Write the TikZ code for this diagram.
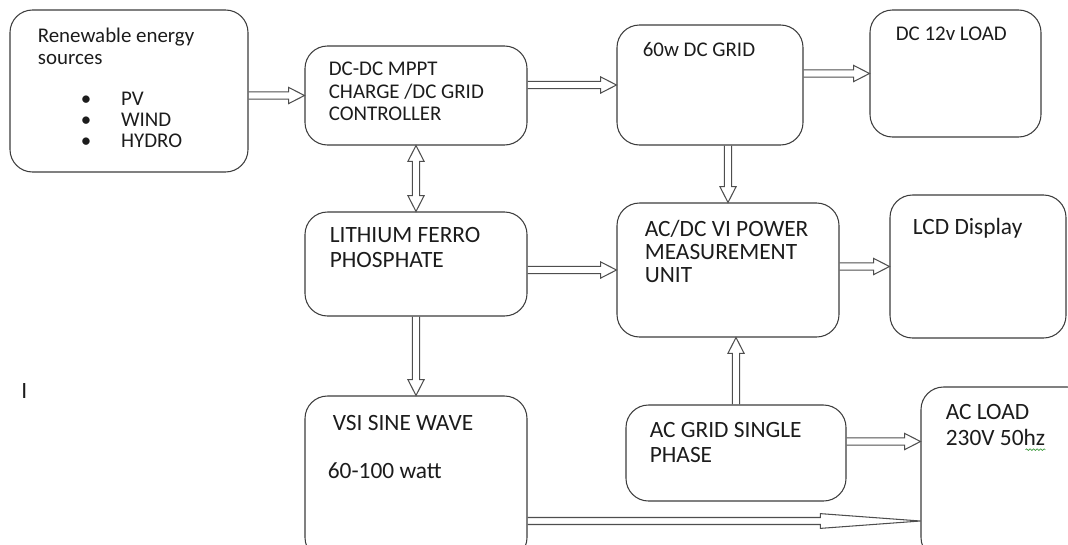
\documentclass[tikz,border=0pt]{standalone}
\usepackage{fontspec}
\setmainfont{Carlito}
\usepackage{tikz}
\usetikzlibrary{positioning,calc,decorations.pathmorphing}
\definecolor{boxgray}{HTML}{3C3C3C}
\definecolor{arrgray}{HTML}{4E4E4E}
\definecolor{inkblack}{HTML}{1C1C1C}
\definecolor{spellgreen}{HTML}{3E9B3E}

\tikzset{
  flowgap/.store in=\flowgap, flowgap=2.1pt,
  flowhead/.store in=\flowhead, flowhead=9pt,
  flowwing/.store in=\flowwing, flowwing=4.6pt,
}

\begin{document}
\begin{tikzpicture}[
    box/.style={draw=boxgray, line width=0.6pt, rounded corners=0.45cm},
    txt/.style={inner sep=0pt, anchor=north west, align=left, text=inkblack,
                font=\fontsize{11.9}{12.6}\selectfont},
    bigtxt/.style={txt, font=\fontsize{13.3}{14}\selectfont},
    % hollow double-line arrow, built as an outline
    flow/.style={draw=arrgray, line width=0.6pt, line join=miter, to path={
        let \p1=(\tikztostart), \p2=(\tikztotarget),
            \p3=($(\p2)!\flowhead!(\p1)$) in
        ($(\p1)!\flowgap!90:(\p2)$) -- ($(\p3)!\flowgap!-90:(\p1)$)
        -- ($(\p3)!\flowwing!-90:(\p1)$) -- (\p2)
        -- ($(\p3)!\flowwing!90:(\p1)$) -- ($(\p3)!\flowgap!90:(\p1)$)
        -- ($(\p1)!\flowgap!-90:(\p2)$)}},
    flowboth/.style={draw=arrgray, line width=0.6pt, line join=miter, to path={
        let \p1=(\tikztostart), \p2=(\tikztotarget),
            \p3=($(\p2)!\flowhead!(\p1)$), \p4=($(\p1)!\flowhead!(\p2)$) in
        (\p1) -- ($(\p4)!\flowwing!-90:(\p2)$) -- ($(\p4)!\flowgap!-90:(\p2)$)
        -- ($(\p3)!\flowgap!90:(\p1)$) -- ($(\p3)!\flowwing!90:(\p1)$)
        -- (\p2)
        -- ($(\p3)!\flowwing!-90:(\p1)$) -- ($(\p3)!\flowgap!-90:(\p1)$)
        -- ($(\p4)!\flowgap!90:(\p2)$) -- ($(\p4)!\flowwing!90:(\p2)$) -- cycle}},
    spell/.style={spellgreen, line width=0.4pt, decorate,
                  decoration={snake, amplitude=0.45pt, segment length=2pt}},
]
\clip (0,0) rectangle (21.36,-10.88);

% === Boxes ===
\node[box, minimum width=4.76cm, minimum height=3.24cm] (ren) at (2.58,-1.82) {};
\node[box, minimum width=4.44cm, minimum height=1.98cm] (mppt) at (8.32,-1.91) {};
\node[box, minimum width=3.72cm, minimum height=2.40cm] (dcgrid) at (14.20,-1.70) {};
\node[box, minimum width=3.42cm, minimum height=2.54cm] (dcload) at (19.11,-1.47) {};
\node[box, minimum width=4.44cm, minimum height=2.08cm] (lfp) at (8.32,-5.28) {};
\node[box, minimum width=4.44cm, minimum height=2.68cm] (meas) at (14.56,-5.40) {};
\node[box, minimum width=3.52cm, minimum height=2.86cm] (lcd) at (19.56,-5.33) {};
\node[box, minimum width=4.44cm, minimum height=3.28cm] (vsi) at (8.32,-9.56) {};
\node[box, minimum width=4.40cm, minimum height=1.92cm] (acgrid) at (14.72,-9.06) {};
\node[box, minimum width=3.38cm, minimum height=3.46cm] (acload) at (20.11,-9.47) {};

% === Box texts ===
\node[txt, below right=0.37cm and 0.56cm of ren.north west] (rentitle)
    {Renewable energy\\sources};
\node[txt, font=\fontsize{11.9}{11.9}\selectfont,
      below right=1.64cm and 1.42cm of ren.north west] (renlist)
    {\textbullet\hspace{17pt}PV\\\textbullet\hspace{17pt}WIND\\\textbullet\hspace{17pt}HYDRO};
\node[txt, below right=0.33cm and 0.48cm of mppt.north west] (mppttext)
    {DC-DC MPPT\\CHARGE /DC GRID\\CONTROLLER};
\node[txt, below right=0.35cm and 0.52cm of dcgrid.north west] (dcgridtext) {60w DC GRID};
\node[txt, below right=0.35cm and 0.52cm of dcload.north west] (dcloadtext) {DC 12v LOAD};
\node[bigtxt, below right=0.31cm and 0.50cm of lfp.north west] (lfptext)
    {LITHIUM FERRO\\PHOSPHATE};
\node[bigtxt, font=\fontsize{13.3}{13.1}\selectfont,
      below right=0.35cm and 0.56cm of meas.north west] (meastext)
    {AC/DC VI POWER\\MEASUREMENT\\UNIT};
\node[bigtxt, below right=0.46cm and 0.46cm of lcd.north west] (lcdtext) {LCD Display};
\node[bigtxt, below right=0.39cm and 0.56cm of vsi.north west] (vsiname) {VSI SINE WAVE};
\node[bigtxt, below right=1.33cm and 0.46cm of vsi.north west] (vsirate) {60-100 watt};
\node[bigtxt, below right=0.35cm and 0.48cm of acgrid.north west] (acgridtext)
    {AC GRID SINGLE\\PHASE};
\node[bigtxt, font=\fontsize{13.3}{14.6}\selectfont,
      below right=0.35cm and 0.50cm of acload.north west] (acloadtext)
    {AC LOAD\\230V 50hz};
\draw[spell] ([xshift=-0.40cm, yshift=-0.08cm]acloadtext.south east)
    -- ([yshift=-0.08cm]acloadtext.south east);

% stray mark on the left
\node[bigtxt] (cursor) at (0.42,-7.66) {I};

% === DC side arrows ===
\draw[flow] (ren.east |- mppt.west) to (mppt.west);
\draw[flow] (mppt.east |- dcgrid.west) to (dcgrid.west);
\draw[flow] (dcgrid.east |- dcload.west) to (dcload.west);
\draw[flowboth] (mppt.south) to (lfp.north);
\draw[flow] (dcgrid.south -| meas.north) to (meas.north);
\draw[flow] (meas.west -| lfp.east) to (meas.west);
\draw[flow] (meas.east |- lcd.west) to (lcd.west);
\draw[flow] (lfp.south) to (vsi.north);

% === AC side arrows ===
\draw[flow] (acgrid.north) to (acgrid.north |- meas.south);
\coordinate (acgridout) at ([yshift=0.23cm]acgrid.east);
\draw[flow] (acgridout) to (acgridout -| acload.west);
\coordinate (vsiout) at ([yshift=-0.86cm]vsi.east);
\draw[flow, flowhead=57pt, flowwing=4.2pt, flowgap=2pt] (vsiout) to (vsiout -| acload.west);

\end{tikzpicture}
\end{document}
